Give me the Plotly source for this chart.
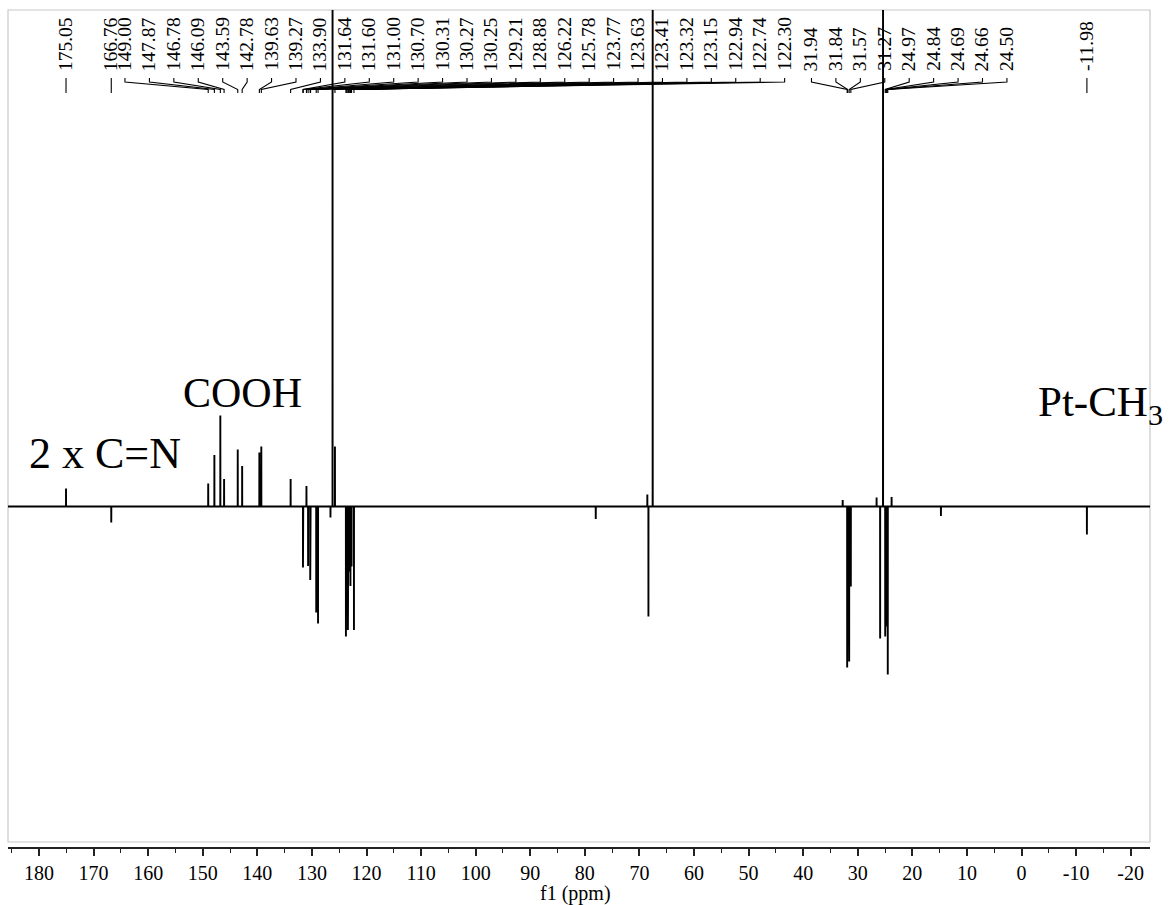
import plotly.graph_objects as go

# ---- 13C APT peak list -------------------------------------------------
# labelled signals: chemical shift (ppm) and signed intensity (arb. units)
label_ppm = [175.05, 166.76,
             149.00, 147.87, 146.78, 146.09, 143.59, 142.78, 139.63, 139.27,
             133.90, 131.64, 131.60, 131.00, 130.70, 130.31, 130.27, 130.25,
             129.21, 128.88, 126.22, 125.78, 123.77, 123.63, 123.41, 123.32,
             123.15, 122.94, 122.74, 122.30,
             31.94, 31.84, 31.57, 31.27, 24.97, 24.84, 24.69, 24.66, 24.50,
             -11.98]
label_int = [0.18, -0.16,
             0.23, 0.515, 0.91, 0.275, 0.57, 0.405, 0.54, 0.60,
             0.275, -0.61, -0.55, 0.205, -0.595, -0.735, -0.70, -0.68,
             -1.06, -1.17, 6.0, 0.60, -1.30, -1.10, -1.235, -0.80,
             -0.65, -0.795, -0.60, -1.235,
             -1.61, -1.50, -1.55, -0.80, -1.30, -0.70, -1.20, -1.10, -1.68,
             -0.28]

# unlabelled lines (solvent and minor signals)
extra_ppm = [126.60, 78.00, 68.55, 68.35, 67.57, 32.76, 26.55, 25.90, 25.37,
             23.80, 14.76]
extra_int = [-0.11, -0.125, 0.12, -1.10, 6.0, 0.065, 0.09, -1.32, 6.0,
             0.095, -0.095]

# how the labels are grouped in the multiplet annotation bars
single_labels = [175.05, 166.76, -11.98]
label_groups = [label_ppm[2:30], label_ppm[30:39]]

# axis ticks
tick_values = list(range(180, -21, -10))
tick_text = [str(v) for v in tick_values]
minor_tick_values = list(range(185, -24, -10))

# ---- layout constants --------------------------------------------------
W, H = 1172, 905
M_L, M_R, M_T, M_B = 8, 22, 10, 57
X_RANGE = [185.68, -23.54]
Y_RANGE = [-3.355, 4.965]
GROUP_START = [164.25, 38.48]   # ppm position of the first label of each bar
LABEL_PITCH = 4.476             # ppm between neighbouring labels
SERIF = "Liberation Serif"
STICK = 0.01                    # half width of each line in ppm

area_h = H - M_T - M_B


def ypaper(py):
    """pixel row -> paper fraction of the plotting area"""
    return (H - M_B - py) / area_h


def xpaper(px):
    return (px - M_L) / (W - M_L - M_R)


# ---- spectrum trace built from the peak list --------------------------
peaks = sorted(zip(label_ppm + extra_ppm, label_int + extra_int),
               key=lambda p: -p[0])
xs, ys = [X_RANGE[0]], [0.0]
for ppm, inten in peaks:
    xs += [ppm + STICK, ppm, ppm - STICK]
    ys += [0.0, inten, 0.0]
xs.append(X_RANGE[1])
ys.append(0.0)

fig = go.Figure()
fig.add_trace(go.Scatter(x=xs, y=ys, mode="lines",
                         line=dict(color="black", width=1.9),
                         hoverinfo="skip", showlegend=False))

# ---- peak labels with connector bars -----------------------------------
shapes = []
annotations = []

label_pos = {p: p for p in single_labels}
for start, group in zip(GROUP_START, label_groups):
    for i, p in enumerate(group):
        label_pos[p] = start - i * LABEL_PITCH

for p in label_ppm:
    lx = label_pos[p]
    shapes.append(dict(
        type="path", xref="x", yref="paper",
        path=(f"M {lx},{ypaper(78)} L {lx},{ypaper(82)} "
              f"L {p},{ypaper(89.5)} L {p},{ypaper(93)}"),
        line=dict(color="black", width=1.1)))
    annotations.append(dict(
        x=lx, y=ypaper(73), xref="x", yref="paper",
        text=f"{p:.2f}", textangle=-90, showarrow=False,
        xanchor="center", yanchor="bottom",
        font=dict(family=SERIF, size=19.5, color="black")))

# plot frame
shapes.append(dict(type="rect", xref="paper", yref="paper",
                   x0=0, x1=1, y0=ypaper(842), y1=1,
                   line=dict(color="#c8c8c8", width=1.2), layer="below"))

# assignment labels
annotations += [
    dict(x=xpaper(181), y=ypaper(418), xref="paper", yref="paper",
         text="COOH", showarrow=False, xanchor="left", yanchor="bottom",
         font=dict(family=SERIF, size=42, color="black")),
    dict(x=xpaper(27), y=ypaper(480), xref="paper", yref="paper",
         text="2 x C=N", showarrow=False, xanchor="left", yanchor="bottom",
         font=dict(family=SERIF, size=44, color="black")),
    dict(x=xpaper(1036), y=ypaper(376), xref="paper", yref="paper",
         text="Pt-CH<sub>3</sub>", showarrow=False, xanchor="left",
         yanchor="top",
         font=dict(family=SERIF, size=43, color="black")),
    dict(x=xpaper(575), y=ypaper(894), xref="paper", yref="paper",
         text="f1 (ppm)", showarrow=False, xanchor="center",
         yanchor="middle",
         font=dict(family=SERIF, size=20, color="black")),
]

fig.update_layout(
    width=W, height=H,
    margin=dict(l=M_L, r=M_R, t=M_T, b=M_B),
    paper_bgcolor="white", plot_bgcolor="white",
    shapes=shapes, annotations=annotations,
    xaxis=dict(range=X_RANGE, anchor="free", position=0, domain=[0, 1],
               showgrid=False, zeroline=False,
               showline=True, linecolor="#222", linewidth=1.6,
               tickmode="array", tickvals=tick_values, ticktext=tick_text,
               ticks="outside", ticklen=7, tickwidth=1.5, tickcolor="#222",
               tickfont=dict(family=SERIF, size=20, color="black"),
               minor=dict(tickmode="array", tickvals=minor_tick_values,
                          ticks="outside", ticklen=4, tickwidth=1.3,
                          tickcolor="#222", showgrid=False)),
    yaxis=dict(range=Y_RANGE, domain=[ypaper(842), 1], visible=False,
               showgrid=False, zeroline=False),
)

fig.write_html("out.html")
